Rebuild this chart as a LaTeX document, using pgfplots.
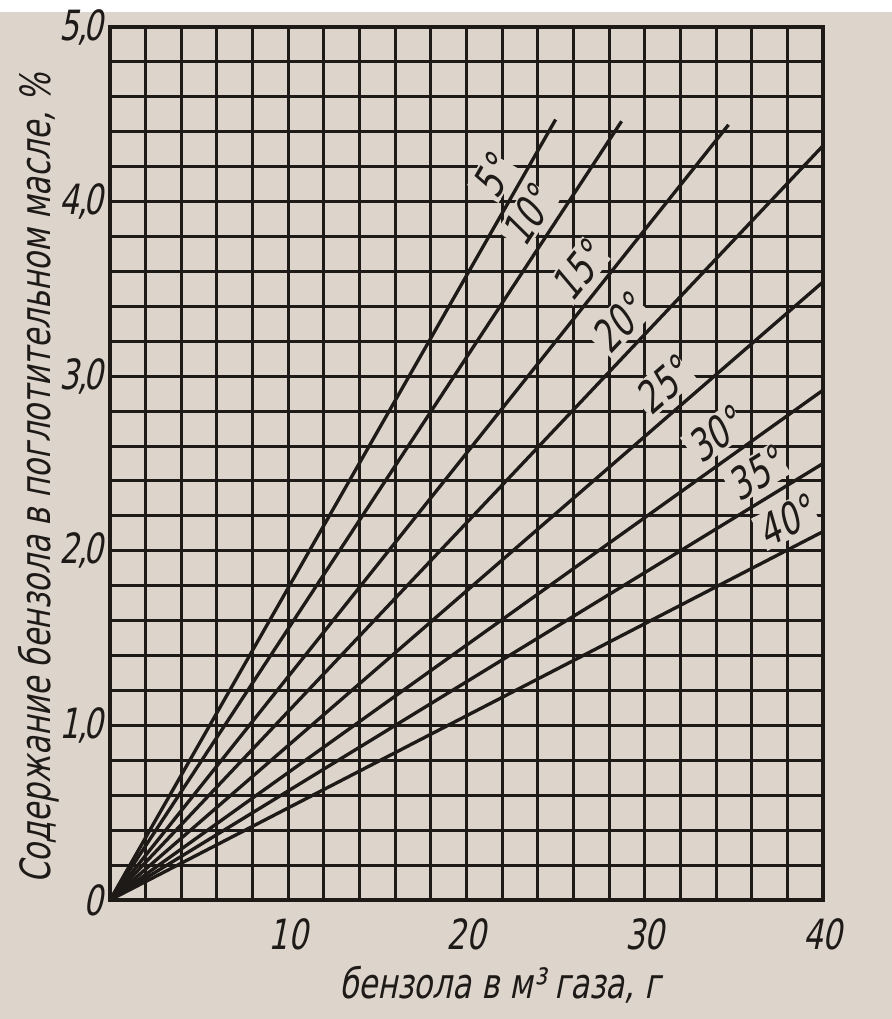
\documentclass[border=0pt]{standalone}
\usepackage{fontspec}
\setmainfont{DejaVu Sans}[FakeSlant=0.2,FakeStretch=0.74]
\usepackage{pgfplots}
\pgfplotsset{compat=1.18}
\usetikzlibrary{backgrounds}
\definecolor{paper}{RGB}{221,213,204}
\definecolor{ink}{RGB}{30,26,24}
\newcommand{\lfont}{\fontsize{12.5}{14}\selectfont}
\newcommand{\cfont}{\fontsize{13}{15}\selectfont}
\newcommand{\dc}[2]{#1\kern-0.5pt,\kern-1pt#2}
\tikzset{lbl/.style={sloped, above=2pt, fill=paper, inner sep=0.5pt, font=\cfont, text=ink}}
\begin{document}
\begin{tikzpicture}[x=1pt,y=1pt]
\begin{axis}[
  at={(0,0)}, anchor=south west,
  scale only axis, width=213.9pt, height=261.9pt,
  xmin=0, xmax=40, ymin=0, ymax=5,
  xtick={10,20,30,40}, xticklabels={10,20,30,40},
  ytick={0,1,2,3,4,5}, yticklabels={0,\dc{1}{0},\dc{2}{0},\dc{3}{0},\dc{4}{0},\dc{5}{0}},
  minor xtick={0,2,...,40}, minor ytick={0,0.2,...,5},
  grid=both,
  major grid style={ink, line width=0.9pt},
  minor grid style={ink, line width=0.9pt},
  major tick length=0pt, minor tick length=0pt,
  axis line style={ink, line width=1.2pt},
  tick label style={font=\lfont, text=ink},
  xticklabel style={yshift=-2pt},
  yticklabel style={xshift=1.5pt},
  xlabel={бензола в м³ газа, г},
  ylabel={Содержание бензола в поглотительном масле, \%},
  xlabel style={at={(axis description cs:0.547,-0.097)}, anchor=center, font=\lfont, text=ink},
  ylabel style={at={(axis description cs:-0.10,0.483)}, anchor=center, font=\fontsize{12.5}{14}\selectfont, text=ink},
]
\addplot[ink, line width=1pt] coordinates {(0,0) (25.0,4.47)} node[lbl, pos=0.91] {5°};
\addplot[ink, line width=1pt] coordinates {(0,0) (28.7,4.46)} node[lbl, pos=0.86] {10°};
\addplot[ink, line width=1pt] coordinates {(0,0) (34.7,4.44)} node[lbl, pos=0.79] {15°};
\addplot[ink, line width=1pt] coordinates {(0,0) (40,4.32)} node[lbl, pos=0.74] {20°};
\addplot[ink, line width=1pt] coordinates {(0,0) (40,3.54)} node[lbl, pos=0.80] {25°};
\addplot[ink, line width=1pt] coordinates {(0,0) (40,2.92)} node[lbl, pos=0.87] {30°};
\addplot[ink, line width=1pt] coordinates {(0,0) (40,2.50)} node[lbl, pos=0.925] {35°};
\addplot[ink, line width=1pt] coordinates {(0,0) (40,2.11)} node[lbl, pos=0.965] {40°};
\end{axis}
\begin{scope}[on background layer]
\fill[paper] (-33,-35.7) rectangle (234.6,270);
\fill[white] (-33,266.4) rectangle (234.6,270);
\end{scope}
\pgfresetboundingbox
\useasboundingbox (-33,-35.7) rectangle (234.6,270);
\end{tikzpicture}
\end{document}
